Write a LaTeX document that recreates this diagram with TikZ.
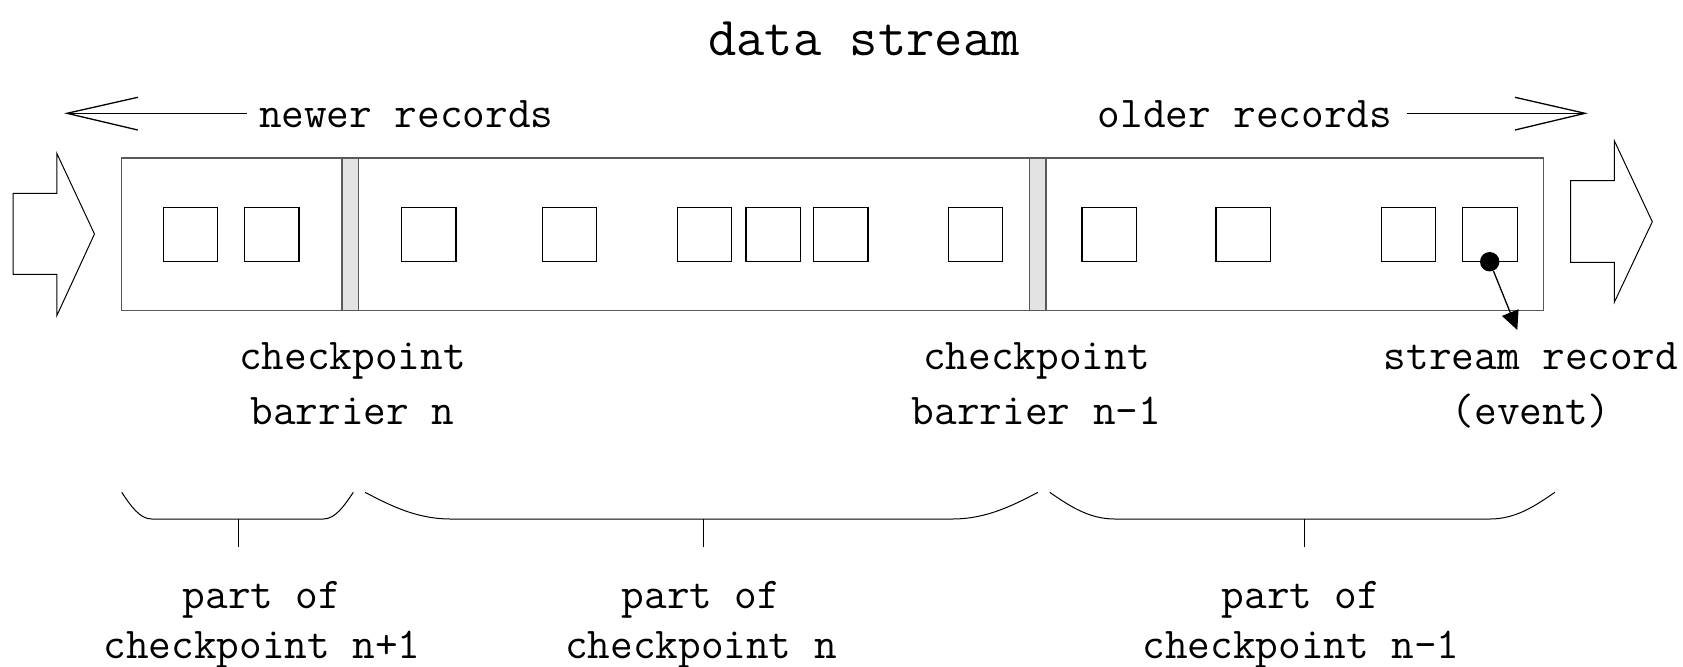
\documentclass[tikz,border=0pt]{standalone}
\usetikzlibrary{arrows.meta}
\tikzset{
  lbl/.style={font=\ttfamily\fontsize{22}{27.35}\selectfont, inner sep=0pt, align=center, anchor=base},
  partlbl/.style={lbl, font=\ttfamily\fontsize{22}{24.8}\selectfont},
  ttl/.style={font=\ttfamily\fontsize{27.5}{30}\selectfont, inner sep=0pt, anchor=base},
  streambox/.style={draw=black!65, line width=0.8pt},
  barrier/.style={draw=black!65, fill=black!11, line width=0.8pt},
  rec/.style={draw=black, line width=0.65pt, minimum size=27.2pt, inner sep=0pt},
  blockarrow/.style={draw=black, line width=0.5pt},
  bracecurve/.style={draw=black, line width=0.5pt},
  dirline/.style={draw=black, line width=0.65pt},
}
\begin{document}
\begin{tikzpicture}[x=0.5pt, y=-0.5pt]
\useasboundingbox (0,0) rectangle (1683,666);

% title and direction hints
\node[ttl] (title) at (864,55) {data stream};
\node[lbl] (newer) at (406.3,127.7) {newer records};
\node[lbl] (older) at (1245,127.7) {older records};
\coordinate (tipL) at (67,113.3);
\coordinate (tipR) at (1585,113.3);
\draw[dirline, shorten >=6pt] (tipL) -- (tipL -| newer.west);
\draw[dirline] (tipL) ++(70.8,-16) -- (tipL) -- ++(70.8,16.7);
\draw[dirline, shorten <=7pt] (tipR -| older.east) -- (tipR);
\draw[dirline] (tipR) ++(-70,-16) -- (tipR) -- ++(-70,16.7);

% incoming and outgoing block arrows
\draw[blockarrow] (13,193.3) -- (56.8,193.3) -- (56.8,153.3) -- (94.5,234)
  -- (56.8,315.7) -- (56.8,274.3) -- (13,274.3) -- cycle;
\draw[blockarrow] (1570.7,180.7) -- (1614.3,180.7) -- (1614.3,140.7) -- (1652.3,221.7)
  -- (1614.3,302.3) -- (1614.3,262.3) -- (1570.7,262.3) -- cycle;

% the stream with its barriers
\draw[streambox] (121.3,157.8) rectangle (1543.6,310.5);
\draw[barrier] (341.8,157.8) rectangle (358.4,310.5);
\draw[barrier] (1029.3,157.8) rectangle (1045.7,310.5);

% records
\foreach \x [count=\i] in {163.3,244.5,401.5,542.3,677.3,745.9,813.6,948.3,1081.9,1216.0,1381.3,1462.7}
  \node[rec] (r\i) at (\x+27.25,234.5) {};

% single record marker
\node[circle, fill=black, inner sep=0pt, minimum size=9.7pt] (ev) at (1489.7,261.7) {};
\coordinate (evtip) at (1517.3,330);
\draw[dirline, -{Triangle[length=9.4pt,width=8.8pt]}] (ev) -- (evtip);

% labels under the stream (anchored at the baseline of their last line)
\node[lbl] (cpn) at (352.5,424) {checkpoint\\barrier n};
\node[lbl] (cpm) at (1036.5,424) {checkpoint\\barrier n-1};
\node[lbl] (srec) at (1531,424) {stream record\\(event)};

% braces
\draw[bracecurve] (121.7,492.3) .. controls (130.7,505.7) and (139.7,519) .. (151.7,519)
  -- (323.3,519) .. controls (335.3,519) and (344.3,505.7) .. (353.3,492.3);
\draw[bracecurve] (238.3,519) -- (238.3,546.7);
\draw[bracecurve] (365,492.3) .. controls (390.8,505.7) and (416.6,519) .. (451,519)
  -- (952,519) .. controls (986.4,519) and (1012.2,505.7) .. (1038,492.3);
\draw[bracecurve] (703,519) -- (703,546.7);
\draw[bracecurve] (1049.7,492.3) .. controls (1069.2,505.7) and (1088.7,519) .. (1114.7,519)
  -- (1489.9,519) .. controls (1515.9,519) and (1535.4,505.7) .. (1554.9,492.3);
\draw[bracecurve] (1304,519) -- (1304,546.7);

\node[partlbl] (p1) at (262,658.5) {part of\\checkpoint n+1};
\node[partlbl] (p2) at (701,658.5) {part of\\checkpoint n};
\node[partlbl] (p3) at (1301,658.5) {part of\\checkpoint n-1};
\end{tikzpicture}
\end{document}
